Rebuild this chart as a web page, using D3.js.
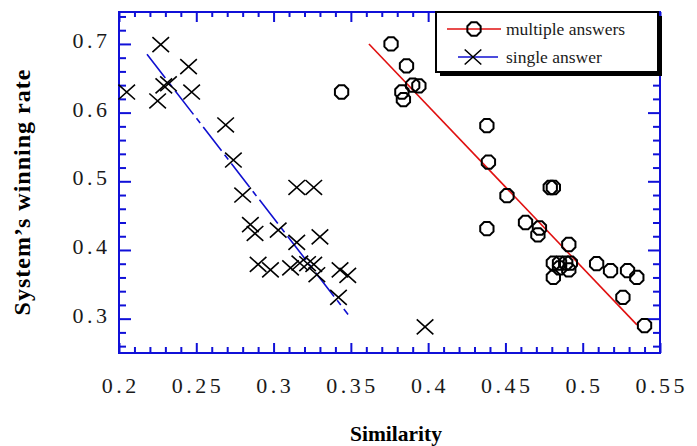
<!DOCTYPE html>
<html>
<head>
<meta charset="utf-8">
<script src="https://cdn.jsdelivr.net/npm/d3@7"></script>
<style>
  body { margin: 0; background: #fff; }
</style>
</head>
<body>
<div id="chart"></div>
<script>
// series values
const multiX = [0.344, 0.376, 0.386, 0.390, 0.394, 0.383, 0.384, 0.438, 0.439, 0.451,
                0.479, 0.481, 0.438, 0.463, 0.472, 0.471, 0.491, 0.481, 0.485, 0.489,
                0.492, 0.485, 0.491, 0.481, 0.509, 0.518, 0.529, 0.535, 0.526, 0.540];
const multiY = [0.630, 0.700, 0.668, 0.640, 0.639, 0.630, 0.619, 0.581, 0.528, 0.479,
                0.491, 0.491, 0.431, 0.440, 0.432, 0.422, 0.408, 0.381, 0.381, 0.381,
                0.381, 0.374, 0.371, 0.360, 0.380, 0.370, 0.370, 0.360, 0.331, 0.290];

const singleX = [0.205, 0.225, 0.227, 0.229, 0.232, 0.245, 0.247, 0.269, 0.274, 0.280,
                 0.285, 0.288, 0.303, 0.315, 0.330, 0.290, 0.298, 0.311, 0.317, 0.322,
                 0.326, 0.328, 0.343, 0.348, 0.342, 0.315, 0.326, 0.398];
const singleY = [0.630, 0.617, 0.699, 0.639, 0.642, 0.667, 0.630, 0.582, 0.531, 0.480,
                 0.437, 0.424, 0.429, 0.411, 0.419, 0.379, 0.371, 0.374, 0.381, 0.380,
                 0.379, 0.364, 0.371, 0.363, 0.331, 0.491, 0.491, 0.288];

// fitted lines (end points)
const multiFitX = [0.3617, 0.5351];
const multiFitY = [0.700, 0.291];
const singleFitX = [0.2181, 0.3482];
const singleFitY = [0.685, 0.306];

const xTickValues = [0.2, 0.25, 0.3, 0.35, 0.4, 0.45, 0.5, 0.55];
const xTickLabels = ["0.2", "0.25", "0.3", "0.35", "0.4", "0.45", "0.5", "0.55"];
const yTickValues = [0.3, 0.4, 0.5, 0.6, 0.7];
const yTickLabels = ["0.3", "0.4", "0.5", "0.6", "0.7"];
const seriesNames = ["multiple answers", "single answer"];

const width = 697, height = 446;
const margin = { top: 12, right: 37, bottom: 93, left: 119 };
const axisColor = "#1010d8";
const serif = "'Liberation Serif', 'Times New Roman', Times, serif";

const svg = d3.select("#chart").append("svg")
  .attr("width", width)
  .attr("height", height)
  .attr("font-family", serif);

const x = d3.scaleLinear().domain([0.2, 0.55]).range([margin.left, width - margin.right]);
const y = d3.scaleLinear().domain([0.25, 0.7465]).range([height - margin.bottom, margin.top]);

const x0 = x.range()[0], x1 = x.range()[1];
const y0 = y.range()[0], y1 = y.range()[1];

// minor ticks
const xMinor = d3.range(21, 55).map(d => d / 100).filter(d => Math.round(d * 100) % 5 !== 0);
const yMinor = d3.range(13, 38).map(d => d / 50).filter(d => Math.round(d * 50) % 5 !== 0);

function drawAxis(axis, values, size, tx, ty) {
  const g = svg.append("g")
    .attr("transform", "translate(" + tx + "," + ty + ")")
    .call(axis.tickValues(values).tickSize(size).tickFormat(""));
  g.select(".domain").remove();
  g.selectAll("line").attr("stroke", axisColor).attr("stroke-width", 2);
}

drawAxis(d3.axisBottom(x), xTickValues, -10, 0, y0);
drawAxis(d3.axisBottom(x), xMinor, -6, 0, y0);
drawAxis(d3.axisTop(x), xTickValues, -10, 0, y1);
drawAxis(d3.axisTop(x), xMinor, -5, 0, y1);
drawAxis(d3.axisLeft(y), yTickValues, -12, x0, 0);
drawAxis(d3.axisLeft(y), yMinor, -7, x0, 0);
drawAxis(d3.axisRight(y), yTickValues, -12, x1, 0);
drawAxis(d3.axisRight(y), yMinor, -7, x1, 0);

// frame
svg.append("rect")
  .attr("x", x0).attr("y", y1)
  .attr("width", x1 - x0).attr("height", y0 - y1)
  .attr("fill", "none")
  .attr("stroke", axisColor)
  .attr("stroke-width", 2);

// tick labels
const ls = 3.5;
svg.append("g").selectAll("text")
  .data(xTickValues)
  .enter().append("text")
  .attr("x", d => x(d) + ls / 2)
  .attr("y", y0 + 40)
  .attr("text-anchor", "middle")
  .attr("font-size", 22)
  .attr("letter-spacing", ls)
  .attr("fill", "#1a1a1a")
  .text((d, i) => xTickLabels[i]);

svg.append("g").selectAll("text")
  .data(yTickValues)
  .enter().append("text")
  .attr("x", x0 - 12 + ls)
  .attr("y", d => y(d) + 4)
  .attr("text-anchor", "end")
  .attr("font-size", 22)
  .attr("letter-spacing", ls)
  .attr("fill", "#1a1a1a")
  .text((d, i) => yTickLabels[i]);

// axis titles
svg.append("text")
  .attr("x", 396)
  .attr("y", 441)
  .attr("text-anchor", "middle")
  .attr("font-size", 21.5)
  .attr("font-weight", "bold")
  .text("Similarity");

svg.append("text")
  .attr("transform", "translate(30," + 192 + ") rotate(-90)")
  .attr("text-anchor", "middle")
  .attr("font-size", 24)
  .attr("font-weight", "bold")
  .attr("letter-spacing", 1)
  .text("System\u2019s winning rate");

// fit lines
const line = d3.line().x(d => x(d[0])).y(d => y(d[1]));

svg.append("path")
  .datum(d3.zip(multiFitX, multiFitY))
  .attr("d", line)
  .attr("fill", "none")
  .attr("stroke", "#e01010")
  .attr("stroke-width", 1.6);

svg.append("path")
  .datum(d3.zip(singleFitX, singleFitY))
  .attr("d", line)
  .attr("fill", "none")
  .attr("stroke", "#1010d0")
  .attr("stroke-width", 1.6)
  .attr("stroke-dasharray", "30,5,6,5");

// markers
const polyR = 7.2;
function polyPath(r) {
  const n = 8;
  let pts = [];
  for (let k = 0; k < n; k++) {
    const a = Math.PI / n + k * 2 * Math.PI / n;
    pts.push([r * Math.cos(a), r * Math.sin(a)]);
  }
  return "M" + pts.map(p => p[0].toFixed(2) + "," + p[1].toFixed(2)).join("L") + "Z";
}
const crossS = 8.3;
const crossPath = "M" + (-crossS) + "," + (-crossS * 0.9) + "L" + crossS + "," + (crossS * 0.9) +
                  "M" + (-crossS) + "," + (crossS * 0.9) + "L" + crossS + "," + (-crossS * 0.9);

svg.append("g").selectAll("path")
  .data(d3.zip(multiX, multiY))
  .enter().append("path")
  .attr("transform", d => "translate(" + x(d[0]) + "," + y(d[1]) + ")")
  .attr("d", polyPath(polyR))
  .attr("fill", "none")
  .attr("stroke", "#000")
  .attr("stroke-width", 2);

svg.append("g").selectAll("path")
  .data(d3.zip(singleX, singleY))
  .enter().append("path")
  .attr("transform", d => "translate(" + x(d[0]) + "," + y(d[1]) + ")")
  .attr("d", crossPath)
  .attr("fill", "none")
  .attr("stroke", "#000")
  .attr("stroke-width", 1.6);

// legend
const legend = svg.append("g").attr("transform", "translate(436,12)");
legend.append("rect")
  .attr("x", 4).attr("y", 4)
  .attr("width", 222).attr("height", 60)
  .attr("fill", "#000");
legend.append("rect")
  .attr("x", 0).attr("y", 0)
  .attr("width", 222).attr("height", 60)
  .attr("fill", "#fff")
  .attr("stroke", "#000")
  .attr("stroke-width", 2);

legend.append("line")
  .attr("x1", 11).attr("x2", 65).attr("y1", 17).attr("y2", 17)
  .attr("stroke", "#e01010").attr("stroke-width", 1.6);
legend.append("path")
  .attr("transform", "translate(38,17)")
  .attr("d", polyPath(polyR))
  .attr("fill", "none").attr("stroke", "#000").attr("stroke-width", 2);

legend.append("line")
  .attr("x1", 22).attr("x2", 62).attr("y1", 45).attr("y2", 45)
  .attr("stroke", "#1010d0").attr("stroke-width", 1.6);
legend.append("path")
  .attr("transform", "translate(37,45)")
  .attr("d", crossPath)
  .attr("fill", "none").attr("stroke", "#000").attr("stroke-width", 1.6);

legend.selectAll("text.lab")
  .data(seriesNames)
  .enter().append("text")
  .attr("class", "lab")
  .attr("x", 70)
  .attr("y", (d, i) => 23 + i * 28)
  .attr("font-size", 17.5)
  .attr("fill", "#1a1a1a")
  .text(d => d);
</script>
</body>
</html>
